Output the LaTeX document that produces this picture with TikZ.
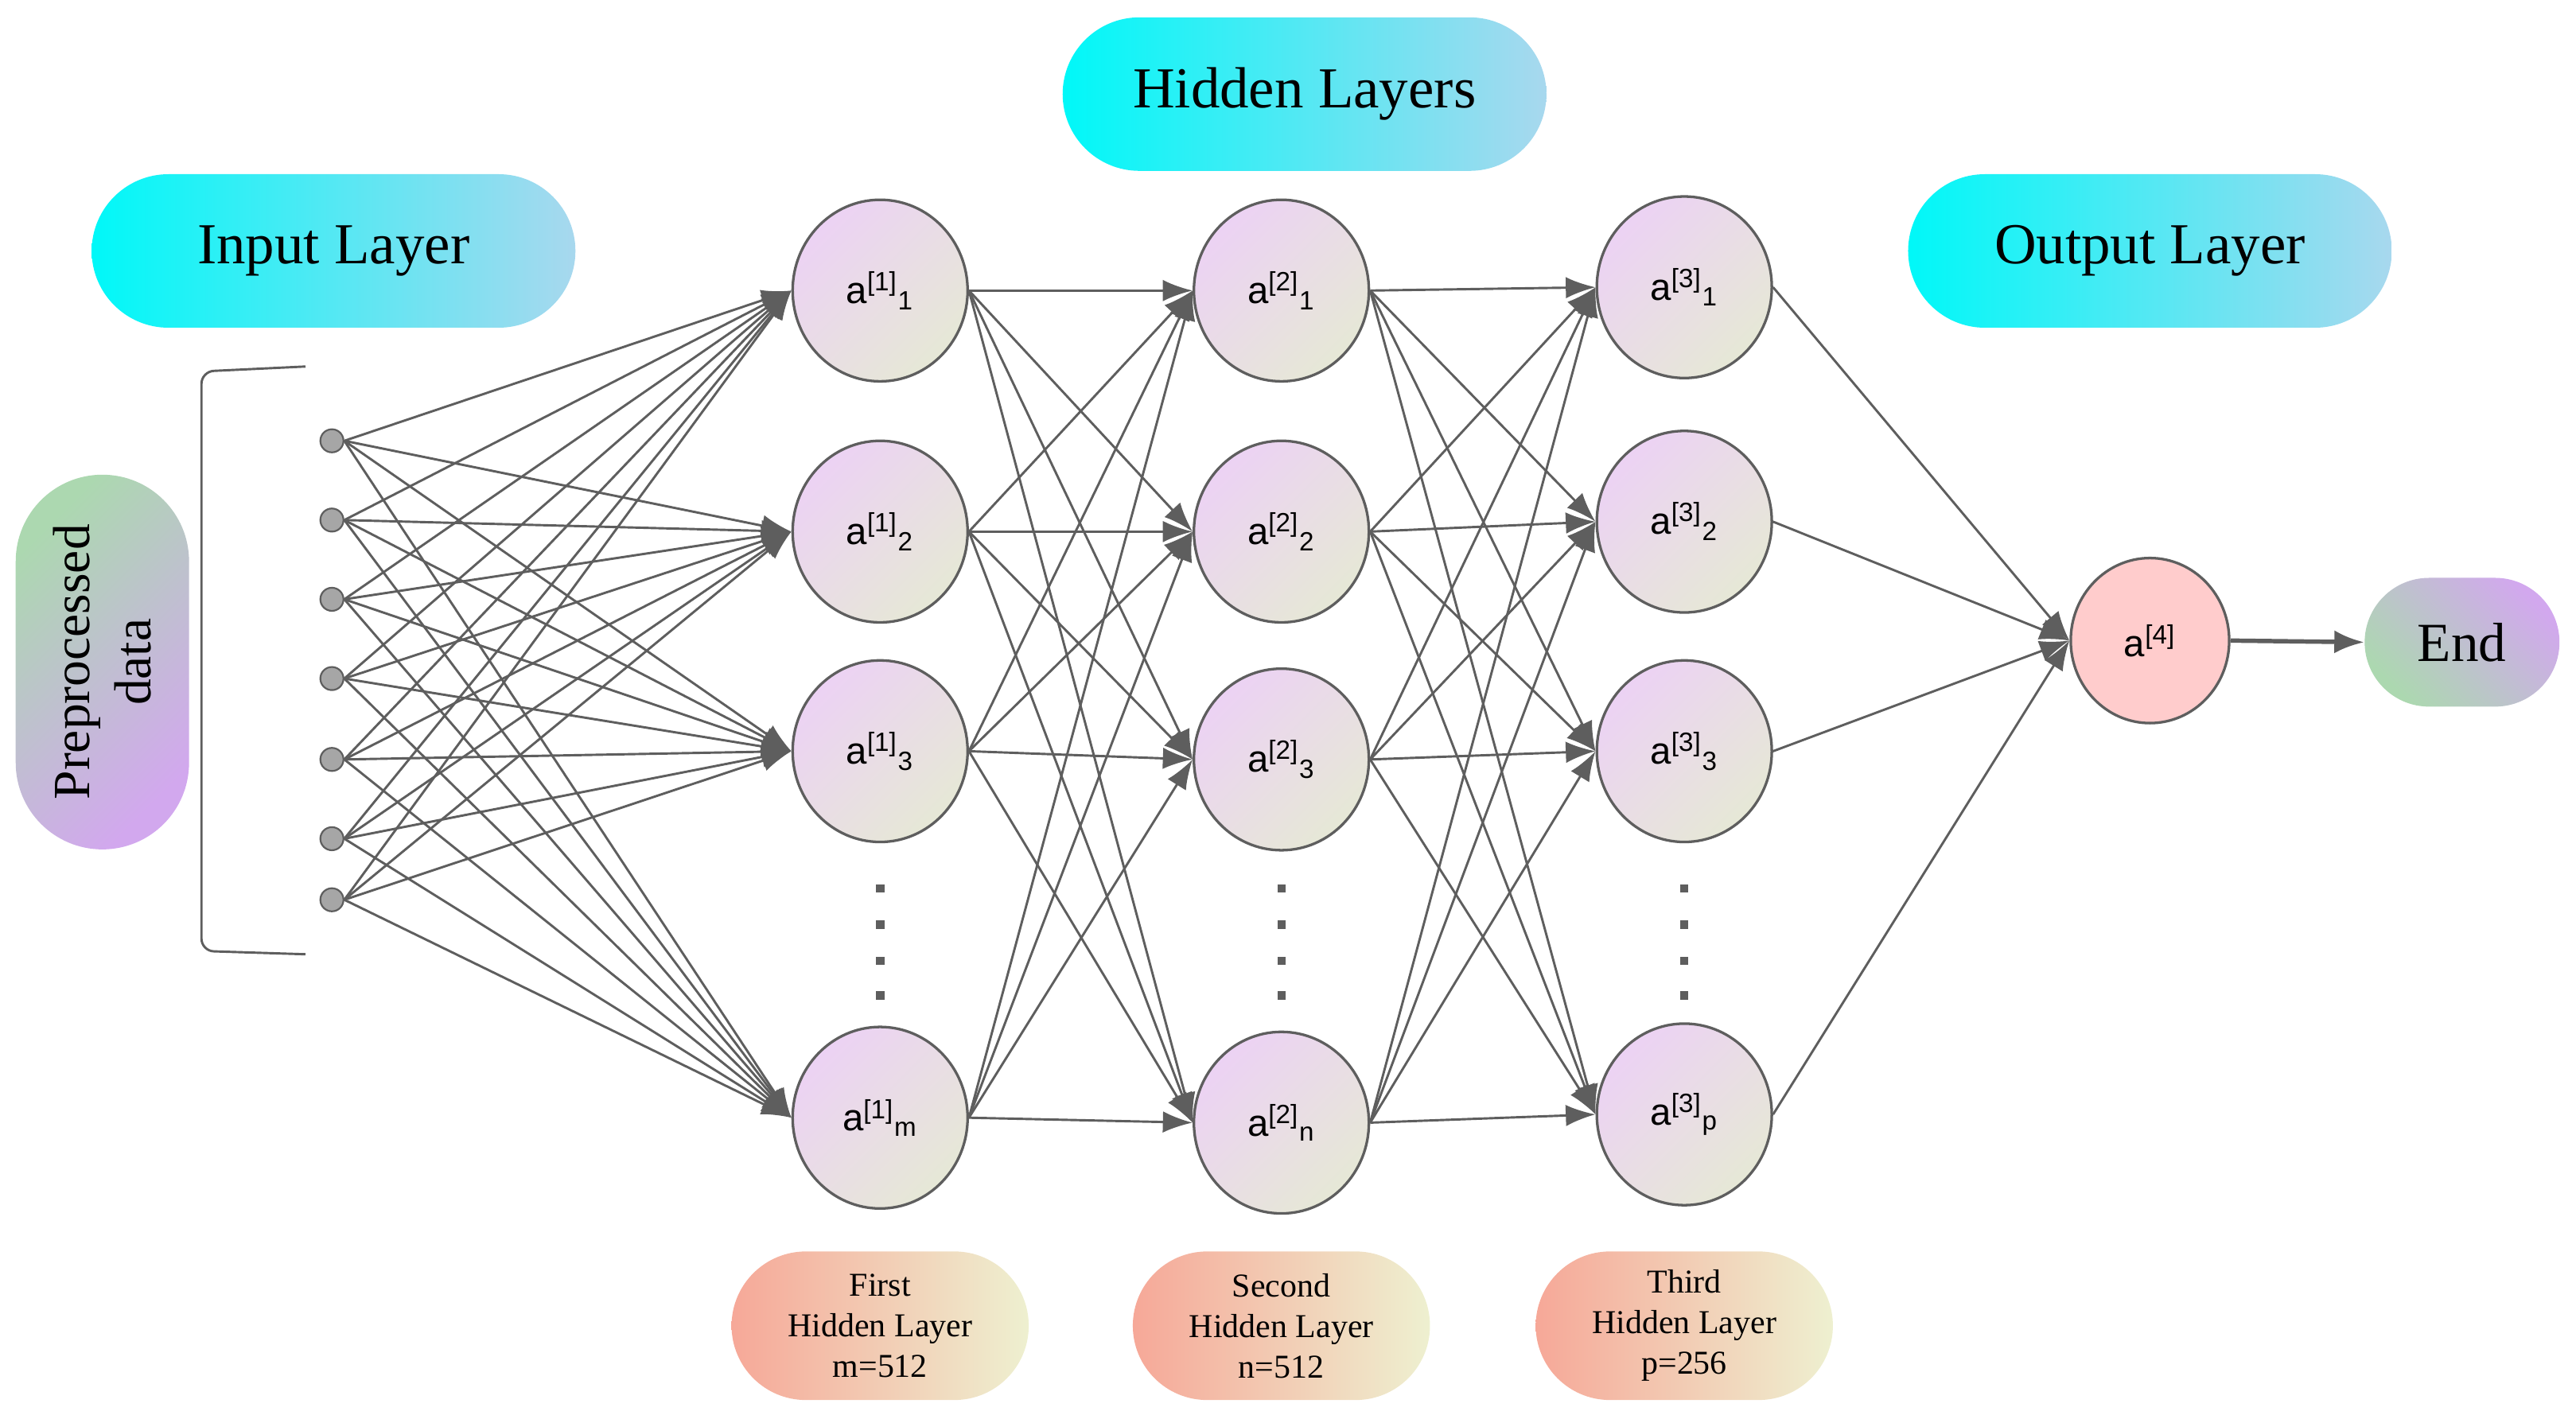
\documentclass[tikz,border=0pt]{standalone}
\usepackage{fontspec}
\setmainfont{Liberation Serif}
\newfontfamily\sansf{Liberation Sans}
\usetikzlibrary{arrows.meta,shapes.geometric}
\definecolor{edge}{HTML}{5E5E5E}
\definecolor{cyanA}{HTML}{00F8F8}
\definecolor{blueB}{HTML}{A8D8EE}
\definecolor{pinkN}{HTML}{ECD2F4}
\definecolor{greyN}{HTML}{E6E8D6}
\definecolor{lilac}{HTML}{D2A8EE}
\definecolor{skyb}{HTML}{9EC0F2}
\definecolor{mint}{HTML}{ACD8B0}
\definecolor{salmon}{HTML}{F6A898}
\definecolor{paley}{HTML}{EEF0D0}
\tikzset{
  title/.style={shade, left color=cyanA, right color=blueB, rounded corners=0.93cm,
    minimum width=5.86cm, minimum height=1.86cm, font=\fontsize{20}{24}\selectfont, text=black},
  neuron/.style={ellipse, draw=edge, line width=0.9pt, shade, top color=pinkN, bottom color=greyN,
    shading angle=45, minimum width=2.12cm, minimum height=2.2cm, inner sep=0pt,
    font=\sansf\fontsize{13}{15}\selectfont},
  inp/.style={circle, draw=edge, fill=gray!70, line width=0.6pt, minimum size=0.28cm, inner sep=0pt},
  conn/.style={draw=edge, line width=0.8pt, -{Latex[length=0.36cm,width=0.26cm]}},
  bottom/.style={shade, left color=salmon, right color=paley, rounded corners=0.9cm,
    minimum width=3.6cm, minimum height=1.8cm, align=center,
    font=\fontsize{11.5}{14}\selectfont},
  vdot/.style={fill=edge, minimum size=0.1cm, inner sep=0pt}
}
\newcommand{\neur}[2]{a\textsuperscript{[#1]}\textsubscript{#2}}
\begin{document}
\begin{tikzpicture}[x=0.02cm,y=-0.02cm]
\useasboundingbox (0,0) rectangle (1560,859.5);
\node[title] (tin) at (202,152) {Input Layer};
\node[title] (thid) at (790,57) {Hidden Layers};
\node[title] (tout) at (1302,152) {Output Layer};
\node[shade, top color=mint, middle color=skyb, bottom color=lilac, shading angle=45,
  rounded corners=1.05cm, minimum width=2.1cm, minimum height=4.54cm] (pre) at (62,401) {};
\node[rotate=90, align=center, font=\fontsize{18}{21}\selectfont] (pret) at (62,401) {Preprocessed\\data};
\draw[edge, line width=0.8pt, rounded corners=0.15cm] (185,222) -- (122,225) -- (122,576) -- (185,578);
\foreach \i/\y in {1/267,2/315,3/363,4/411,5/460,6/508,7/545}
  \node[inp] (in\i) at (201,\y) {};
\node[neuron] (A1) at (533,176) {\neur{1}{1}};
\node[neuron] (A2) at (533,322) {\neur{1}{2}};
\node[neuron] (A3) at (533,455) {\neur{1}{3}};
\node[neuron] (A4) at (533,677) {\neur{1}{m}};
\node[neuron] (B1) at (776,176) {\neur{2}{1}};
\node[neuron] (B2) at (776,322) {\neur{2}{2}};
\node[neuron] (B3) at (776,460) {\neur{2}{3}};
\node[neuron] (B4) at (776,680) {\neur{2}{n}};
\node[neuron] (C1) at (1020,174) {\neur{3}{1}};
\node[neuron] (C2) at (1020,316) {\neur{3}{2}};
\node[neuron] (C3) at (1020,455) {\neur{3}{3}};
\node[neuron] (C4) at (1020,675) {\neur{3}{p}};
\node[ellipse, draw=edge, line width=0.9pt, fill=red!20!white, minimum width=1.92cm, minimum height=2cm,
  font=\sansf\fontsize{13}{15}\selectfont] (D) at (1302,388) {a\textsuperscript{[4]}};
\node[shade, top color=lilac, middle color=skyb, bottom color=mint, shading angle=-45,
  rounded corners=0.78cm, minimum width=2.36cm, minimum height=1.56cm,
  font=\fontsize{19}{22}\selectfont] (E) at (1491,389) {End};
\foreach \x/\n in {533/a,776/b,1020/c}
  \foreach \y [count=\k] in {538,560,582,603}
    \node[vdot] (d\n\k) at (\x,\y) {};
\foreach \i in {1,...,7}
  \foreach \j in {1,...,4}
    \draw[conn] (in\i.east) -- (A\j.west);
\foreach \i in {1,...,4}
  \foreach \j in {1,...,4}
    {\draw[conn] (A\i.east) -- (B\j.west);
     \draw[conn] (B\i.east) -- (C\j.west);}
\foreach \i in {1,...,4}
  \draw[conn] (C\i.east) -- (D.west);
\draw[draw=edge, line width=1.5pt, -{Latex[length=0.36cm,width=0.28cm]}] (D.east) -- (E.west);
\node[bottom] (L1) at (533,803) {First\\Hidden Layer\\m=512};
\node[bottom] (L2) at (776,803) {Second\\Hidden Layer\\n=512};
\node[bottom] (L3) at (1020,803) {Third\\Hidden Layer\\p=256};
\end{tikzpicture}
\end{document}
